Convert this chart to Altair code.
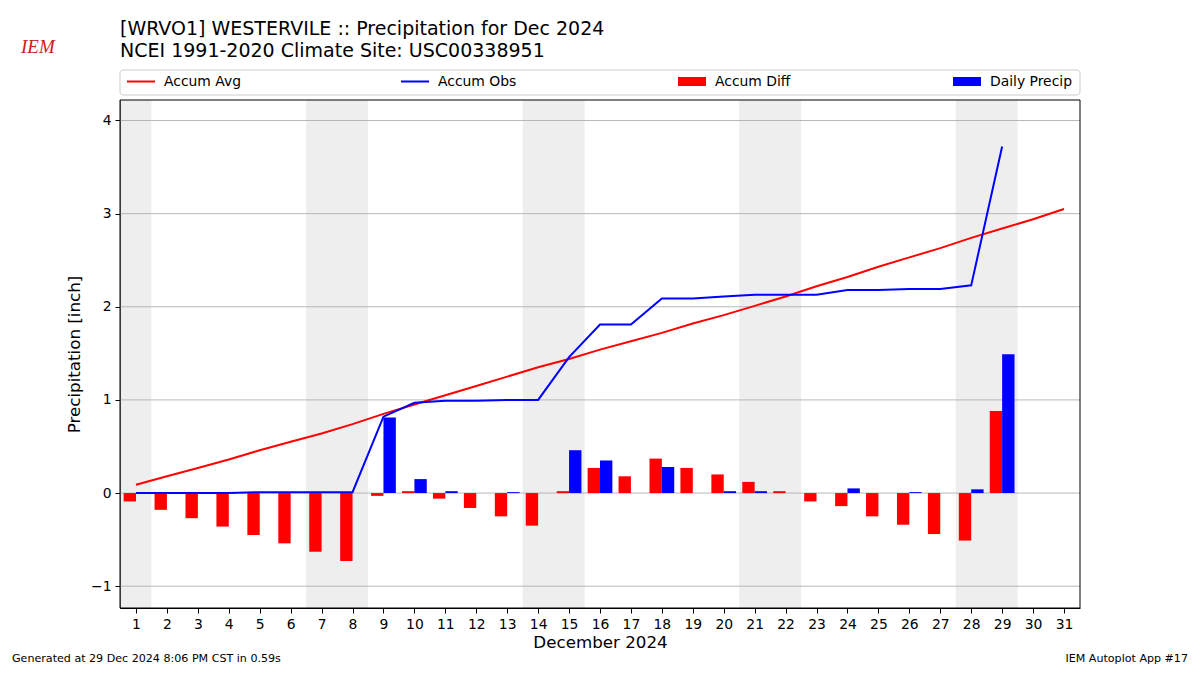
import altair as alt
import pandas as pd

# ---------------- data ----------------
days = list(range(1, 32))
accum_avg = [0.09, 0.18, 0.27, 0.36, 0.46, 0.55, 0.64, 0.74, 0.85, 0.95,
             1.05, 1.15, 1.25, 1.35, 1.44, 1.54, 1.63, 1.72, 1.82, 1.91,
             2.01, 2.11, 2.22, 2.32, 2.43, 2.53, 2.63, 2.74, 2.84, 2.94, 3.05]

obs_days = list(range(1, 30))
accum_obs = [0.00, 0.00, 0.00, 0.00, 0.01, 0.01, 0.01, 0.01, 0.82, 0.97,
             0.99, 0.99, 1.00, 1.00, 1.46, 1.81, 1.81, 2.09, 2.09, 2.11,
             2.13, 2.13, 2.13, 2.18, 2.18, 2.19, 2.19, 2.23, 3.72]
accum_diff = [-0.09, -0.18, -0.27, -0.36, -0.45, -0.54, -0.63, -0.73, -0.03, 0.02,
              -0.06, -0.16, -0.25, -0.35, 0.02, 0.27, 0.18, 0.37, 0.27, 0.20,
              0.12, 0.02, -0.09, -0.14, -0.25, -0.34, -0.44, -0.51, 0.88]
daily_precip = [0.00, 0.00, 0.00, 0.00, 0.00, 0.00, 0.00, 0.00, 0.81, 0.15,
                0.02, 0.00, 0.01, 0.00, 0.46, 0.35, 0.00, 0.28, 0.00, 0.02,
                0.02, 0.00, 0.00, 0.05, 0.00, 0.01, 0.00, 0.04, 1.49]

weekend_days = [1, 7, 8, 14, 15, 21, 22, 28, 29]
y_ticks = [-1, 0, 1, 2, 3, 4]
x_ticks = days

legend_labels = ["Accum Avg", "Accum Obs", "Accum Diff", "Daily Precip"]
legend_colors = ["#ff0000", "#0000ff", "#ff0000", "#0000ff"]

title_line1 = "[WRVO1] WESTERVILE :: Precipitation for Dec 2024"
title_line2 = "NCEI 1991-2020 Climate Site: USC00338951"
footer_left = "Generated at 29 Dec 2024 8:06 PM CST in 0.59s"
footer_right = "IEM Autoplot App #17"

# ---------------- tables ----------------
avg_df = pd.DataFrame({"day": days, "avg": accum_avg})
obs_df = pd.DataFrame({"day": obs_days, "obs": accum_obs,
                       "diff": accum_diff, "daily": daily_precip})

# group consecutive weekend days into shaded spans
span_start, span_end = [], []
for d in weekend_days:
    if span_end and d == span_end[-1] + 1:
        span_end[-1] = d
    else:
        span_start.append(d)
        span_end.append(d)
wk_df = pd.DataFrame({"first": span_start, "last": span_end})
grid_df = pd.DataFrame({"v": y_ticks})
one = pd.DataFrame({"a": [0]})

FONT = "DejaVu Sans"
W, H = 960, 508

xscale = alt.Scale(domain=[0.483, 31.517], nice=False, zero=False)
yscale = alt.Scale(domain=[-1.234, 4.22], nice=False, zero=False)
xaxis = alt.Axis(values=x_ticks, title="December 2024", grid=False,
                 labelFontSize=13.9, titleFontSize=16.7, tickSize=5,
                 labelPadding=4, titlePadding=4, labelFlush=False,
                 titleFontWeight="normal")
yaxis = alt.Axis(values=y_ticks, title="Precipitation [inch]", grid=False,
                 labelFontSize=13.9, titleFontSize=16.7, tickSize=5,
                 labelPadding=4, titlePadding=7, format="d",
                 titleFontWeight="normal")


def X(f):
    return alt.X(f, type="quantitative", scale=xscale, axis=xaxis)


def Y(f):
    return alt.Y(f, type="quantitative", scale=yscale, axis=yaxis)


shade = alt.Chart(wk_df).mark_rect(color="#eeeeee").transform_calculate(
    x0="datum.first - 0.5", x1="datum.last + 0.5"
).encode(x=X("x0"), x2="x1", y=alt.value(0), y2=alt.value(H))

grid = alt.Chart(grid_df).mark_rule(color="#b0b0b0", strokeWidth=0.9).encode(
    y=Y("v"))

diff_bars = alt.Chart(obs_df).mark_rect(color="#ff0000").transform_calculate(
    x0="datum.day - 0.4", zero="0"
).encode(x=X("x0"), x2="day", y=Y("diff"), y2="zero")

daily_bars = alt.Chart(obs_df).mark_rect(color="#0000ff").transform_filter(
    "datum.daily > 0"
).transform_calculate(
    x1="datum.day + 0.4", zero="0"
).encode(x=X("day"), x2="x1", y=Y("daily"), y2="zero")

avg_line = alt.Chart(avg_df).mark_line(color="#ff0000", strokeWidth=2).encode(
    x=X("day"), y=Y("avg"))
obs_line = alt.Chart(obs_df).mark_line(color="#0000ff", strokeWidth=2).encode(
    x=X("day"), y=Y("obs"))

frame = alt.Chart(one).mark_rect(filled=False, stroke="black", strokeWidth=1).encode(
    x=alt.value(0), x2=alt.value(W), y=alt.value(0), y2=alt.value(H))

# ---------------- legend (drawn manually) ----------------
leg_box = alt.Chart(one).mark_rect(fill="white", stroke="#cccccc",
                                   strokeWidth=1, cornerRadius=3).encode(
    x=alt.value(0), x2=alt.value(W), y=alt.value(-30), y2=alt.value(-5))

leg_layers = [leg_box]
slots = [7, 281, 558, 833]
for i, (lab, col) in enumerate(zip(legend_labels, legend_colors)):
    sx = slots[i]
    if i < 2:
        leg_layers.append(alt.Chart(one).mark_rule(color=col, strokeWidth=2).encode(
            x=alt.value(sx), x2=alt.value(sx + 28), y=alt.value(-18.5)))
    else:
        leg_layers.append(alt.Chart(one).mark_rect(color=col).encode(
            x=alt.value(sx), x2=alt.value(sx + 28), y=alt.value(-23), y2=alt.value(-14)))
    leg_layers.append(alt.Chart(one).mark_text(
        text=lab, font=FONT, fontSize=13.9, align="left", baseline="middle",
        color="black").encode(x=alt.value(sx + 37), y=alt.value(-18)))

# ---------------- titles, footer, logo ----------------
texts = [
    alt.Chart(one).mark_text(text=title_line1, font=FONT, fontSize=19, align="left",
                             baseline="alphabetic", color="black").encode(
        x=alt.value(0), y=alt.value(-65)),
    alt.Chart(one).mark_text(text=title_line2, font=FONT, fontSize=19, align="left",
                             baseline="alphabetic", color="black").encode(
        x=alt.value(0), y=alt.value(-43)),
    alt.Chart(one).mark_text(text=footer_left, font=FONT, fontSize=11.1, align="left",
                             baseline="alphabetic", color="black").encode(
        x=alt.value(-108), y=alt.value(562)),
    alt.Chart(one).mark_text(text=footer_right, font=FONT, fontSize=11.1, align="right",
                             baseline="alphabetic", color="black").encode(
        x=alt.value(1068), y=alt.value(562)),
    alt.Chart(one).mark_text(text="IEM", font="Liberation Serif", fontSize=19,
                             fontStyle="italic", align="left", baseline="alphabetic",
                             color="#cc2020").encode(
        x=alt.value(-99), y=alt.value(-47)),
]

chart = alt.layer(
    shade, grid, diff_bars, daily_bars, avg_line, obs_line, frame,
    *leg_layers, *texts
).properties(
    width=W, height=H,
    padding={"left": 112, "top": 92, "right": 112, "bottom": 59},
    autosize=alt.AutoSizeParams(type="none"),
).configure_view(
    strokeWidth=0
).configure_axis(
    domainColor="black", tickColor="black", labelColor="black", titleColor="black",
    labelFont=FONT, titleFont=FONT
)

chart.save("out.html", embed_options={"renderer": "svg", "actions": False})
